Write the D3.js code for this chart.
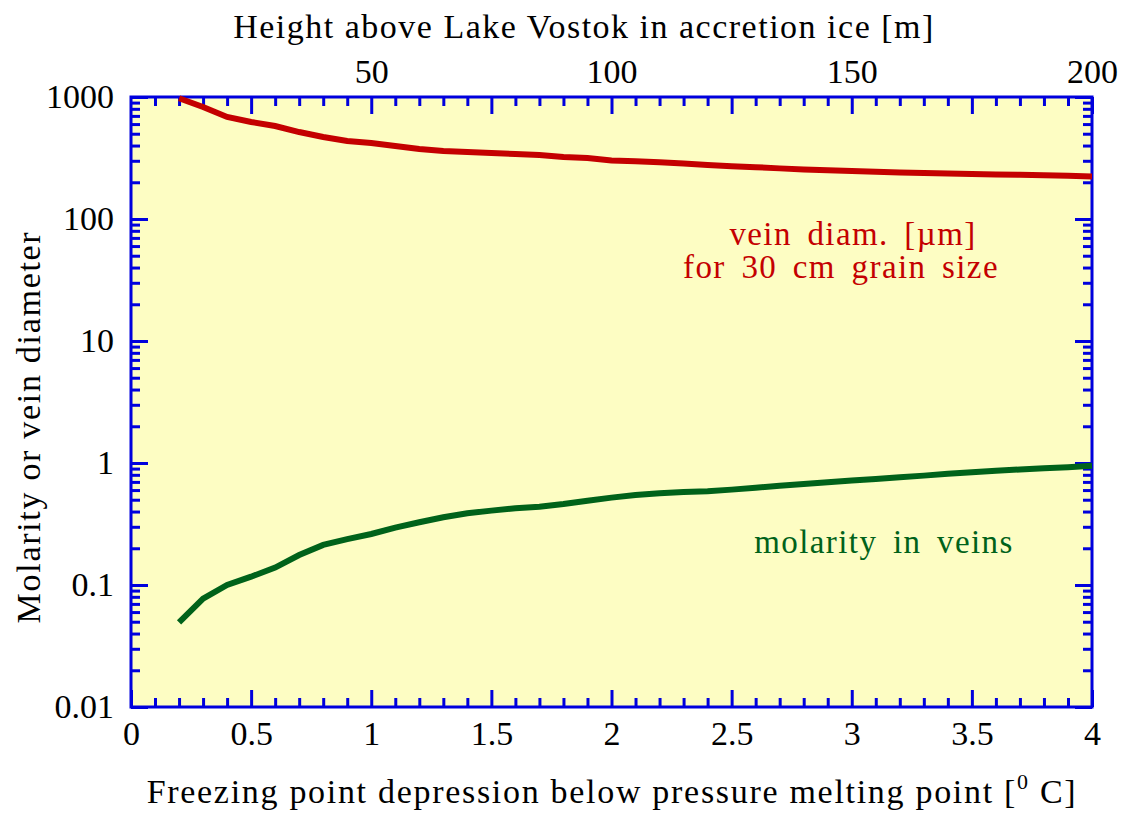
<!DOCTYPE html>
<html>
<head>
<meta charset="utf-8">
<script src="https://cdn.jsdelivr.net/npm/d3@7"></script>
<style>
  body { margin: 0; background: #fff; }
  text { font-family: "Liberation Serif", "Times New Roman", serif; }
</style>
</head>
<body>
<svg id="chart" width="1128" height="817"></svg>
<script>
// freezing point depression [deg C]
var depression = [0.2, 0.3, 0.4, 0.5, 0.6, 0.7, 0.8, 0.9, 1.0, 1.1, 1.2, 1.3, 1.4, 1.5,
  1.6, 1.7, 1.8, 1.9, 2.0, 2.1, 2.2, 2.3, 2.4, 2.5, 2.6, 2.7, 2.8, 2.9, 3.0,
  3.1, 3.2, 3.3, 3.4, 3.5, 3.6, 3.7, 3.8, 3.9, 4.0];
// vein diameter [um]
var veinDiam = [976, 828, 686, 624, 578, 516, 470, 436, 420, 396, 375, 361, 354, 348,
  341, 335, 322, 316, 302, 297, 292, 285, 277, 271, 266, 260, 255, 251, 247,
  244, 241, 238, 236, 234, 232, 230, 228, 226, 223];
// molarity in veins
var molarity = [0.0494, 0.0772, 0.100, 0.117, 0.139, 0.176, 0.213, 0.238, 0.262, 0.295,
  0.327, 0.359, 0.387, 0.407, 0.425, 0.438, 0.461, 0.491, 0.520, 0.547, 0.565,
  0.578, 0.588, 0.605, 0.628, 0.650, 0.672, 0.695, 0.718, 0.740, 0.763, 0.788,
  0.815, 0.840, 0.865, 0.885, 0.905, 0.925, 0.950];

var xTicks = [0, 0.5, 1, 1.5, 2, 2.5, 3, 3.5, 4];
var xLabels = ["0", "0.5", "1", "1.5", "2", "2.5", "3", "3.5", "4"];
var topTicks = [50, 100, 150, 200];
var yTicks = [0.01, 0.1, 1, 10, 100, 1000];
var yLabels = ["0.01", "0.1", "1", "10", "100", "1000"];

var svg = d3.select("#chart"),
    margin = {top: 97, right: 36, bottom: 110, left: 131},
    width = +svg.attr("width") - margin.left - margin.right,
    height = +svg.attr("height") - margin.top - margin.bottom,
    g = svg.append("g").attr("transform", "translate(" + margin.left + "," + margin.top + ")");

var blue = "#0000dd", red = "#c40000", green = "#00621a";

var x = d3.scaleLinear().domain([0, 4]).range([0, width]);
var xTop = d3.scaleLinear().domain([0, 200]).range([0, width]);
var y = d3.scaleLog().domain([0.01, 1000]).range([height, 0]);

g.append("rect")
    .attr("width", width).attr("height", height)
    .attr("fill", "#fdfdc3");

// minor tick values
var xMinor = d3.range(0, 41).map(d => d / 10).filter(d => Math.abs(d * 2 - Math.round(d * 2)) > 1e-6);
var topMinor = d3.range(5, 200, 5).filter(d => d % 25 != 0);
var topMajor = d3.range(25, 201, 25);
var yMinor = [];
yTicks.slice(0, -1).forEach(function(p) {
    for (var k = 2; k <= 9; k++) yMinor.push(p * k);
});

function tickAxis(axis, cls, tr) {
    var a = g.append("g").attr("class", cls).attr("transform", tr || null).call(axis);
    a.select(".domain").remove();
    a.selectAll("line").attr("stroke", blue).attr("stroke-width", 3);
    return a;
}

var MAJ = 17, MIN = 9;

// bottom
tickAxis(d3.axisBottom(x).tickValues(xMinor).tickSize(-MIN).tickSizeOuter(0).tickFormat(""),
    "xminor", "translate(0," + height + ")");
tickAxis(d3.axisBottom(x).tickValues(xTicks).tickSize(-MAJ).tickSizeOuter(0).tickFormat((d, i) => xLabels[i]),
    "xmajor", "translate(0," + height + ")")
    .selectAll("text").attr("y", 14).attr("font-size", 34).attr("fill", "#000");

// top
tickAxis(d3.axisTop(xTop).tickValues(topMinor).tickSize(-MIN).tickSizeOuter(0).tickFormat(""), "tminor");
tickAxis(d3.axisTop(xTop).tickValues(topMajor).tickSize(-MAJ).tickSizeOuter(0).tickFormat(""), "tmajor");
tickAxis(d3.axisTop(xTop).tickValues(topTicks).tickSize(0).tickSizeOuter(0).tickFormat(d => d), "tlabels")
    .selectAll("text").attr("y", -14).attr("font-size", 34).attr("fill", "#000");

// left
tickAxis(d3.axisLeft(y).tickValues(yMinor).tickSize(-MIN).tickSizeOuter(0).tickFormat(""), "yminor");
tickAxis(d3.axisLeft(y).tickValues(yTicks).tickSize(-MAJ).tickSizeOuter(0).tickFormat((d, i) => yLabels[i]), "ymajor")
    .selectAll("text").attr("x", -17).attr("font-size", 34).attr("fill", "#000");

// right
tickAxis(d3.axisRight(y).tickValues(yMinor).tickSize(-MIN).tickSizeOuter(0).tickFormat(""),
    "rminor", "translate(" + width + ",0)");
tickAxis(d3.axisRight(y).tickValues(yTicks).tickSize(-MAJ).tickSizeOuter(0).tickFormat(""),
    "rmajor", "translate(" + width + ",0)");

g.append("rect")
    .attr("width", width).attr("height", height)
    .attr("fill", "none").attr("stroke", blue).attr("stroke-width", 3);

// curves
var line = d3.line().x((d, i) => x(depression[i]));

g.append("path")
    .datum(veinDiam)
    .attr("d", line.y(d => y(d)))
    .attr("fill", "none").attr("stroke", red).attr("stroke-width", 6);

g.append("path")
    .datum(molarity)
    .attr("d", line.y(d => y(d)))
    .attr("fill", "none").attr("stroke", green).attr("stroke-width", 6);

// annotations
function note(tx, ty, col, str) {
    g.append("text").attr("x", tx).attr("y", ty)
        .attr("text-anchor", "middle").attr("font-size", 33).attr("fill", col)
        .attr("letter-spacing", 1.4).attr("word-spacing", 6)
        .text(str);
}
note(853 - margin.left, 245 - margin.top, red, "vein diam. [\u00b5m]");
note(841 - margin.left, 278 - margin.top, red, "for 30 cm grain size");
note(884 - margin.left, 553 - margin.top, green, "molarity in veins");

// axis titles
svg.append("text").attr("x", 584).attr("y", 38)
    .attr("text-anchor", "middle").attr("font-size", 34).attr("letter-spacing", 1.5)
    .text("Height above Lake Vostok in accretion ice [m]");

var xt = svg.append("text").attr("x", 612).attr("y", 803)
    .attr("text-anchor", "middle").attr("font-size", 34).attr("letter-spacing", 1.7);
xt.append("tspan").text("Freezing point depression below pressure melting point [");
xt.append("tspan").attr("font-size", 22).attr("dy", -14).text("0");
xt.append("tspan").attr("dy", 14).text(" C]");

svg.append("text")
    .attr("transform", "translate(40,427) rotate(-90)")
    .attr("text-anchor", "middle").attr("font-size", 34).attr("letter-spacing", 1.7)
    .text("Molarity or vein diameter");
</script>
</body>
</html>
